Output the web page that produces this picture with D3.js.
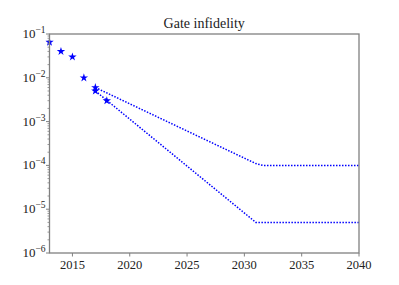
<!DOCTYPE html>
<html lang="en">
<head>
<meta charset="UTF-8">
<title>Gate infidelity</title>
<script src="https://d3js.org/d3.v7.min.js"></script>
<style>
  body { margin: 0; background: #fff; }
  text { font-family: "Liberation Serif", "DejaVu Serif", serif; fill: #222; }
</style>
</head>
<body>
<svg id="canvas"></svg>
<script>
// measured values
let starYears = [2013, 2014, 2015, 2016, 2017, 2017, 2018]
let starValues = [0.065, 0.04, 0.03, 0.01, 0.006, 0.005, 0.003]

let upperYears = [2017, 2031, 2031.6, 2040]
let upperValues = [0.006, 1.1e-4, 1e-4, 1e-4]
let lowerYears = [2017, 2031, 2040]
let lowerValues = [0.005, 5e-6, 5e-6]

let xTicks = [2015, 2020, 2025, 2030, 2035, 2040]
let yExps = [-1, -2, -3, -4, -5, -6]

let width = 399
let height = 285
let padLeft = 49.5, padRight = 359, padTop = 34, padBottom = 253
let spine = "#808080"

let svg = d3.select("#canvas").attr("width", width).attr("height", height)

let xScale = d3.scaleLinear().domain([2013, 2040]).range([padLeft, padRight])
let yScale = d3.scaleLog().domain([1e-6, 1e-1]).range([padBottom, padTop])

// clip area for data
svg.append("clipPath").attr("id", "clip")
   .append("rect").attr("x", padLeft - 4).attr("y", padTop)
   .attr("width", padRight - padLeft + 4).attr("height", padBottom - padTop)

let line = d3.line().x(d => xScale(d[0])).y(d => yScale(d[1]))

let plot = svg.append("g").attr("clip-path", "url(#clip)")

plot.append("path")
    .datum(d3.zip(upperYears, upperValues))
    .attr("d", line)
    .attr("fill", "none").attr("stroke", "#0000ff").attr("stroke-width", 1.5)
    .attr("stroke-dasharray", "1.5,1.5")

plot.append("path")
    .datum(d3.zip(lowerYears, lowerValues))
    .attr("d", line)
    .attr("fill", "none").attr("stroke", "#0000ff").attr("stroke-width", 1.5)
    .attr("stroke-dasharray", "1.5,1.5")

plot.selectAll(".star")
    .data(d3.zip(starYears, starValues))
    .enter()
    .append("path")
    .attr("class", "star")
    .attr("d", d3.symbol().type(d3.symbolStar).size(22))
    .attr("transform", d => "translate(" + xScale(d[0]) + "," + yScale(d[1]) + ")")
    .attr("fill", "#0000ff")

// x axis
let xAxis = svg.append("g").attr("transform", "translate(0," + padBottom + ")")
xAxis.selectAll("line")
     .data(xTicks).enter().append("line")
     .attr("x1", d => xScale(d)).attr("x2", d => xScale(d))
     .attr("y1", 0).attr("y2", 3.5)
     .attr("stroke", spine).attr("stroke-width", 1)
xAxis.selectAll("text")
     .data(xTicks).enter().append("text")
     .attr("x", d => xScale(d)).attr("y", 16)
     .attr("text-anchor", "middle").attr("font-size", 12.5)
     .text(d => d)

// y axis: major and minor ticks
let yAxis = svg.append("g").attr("transform", "translate(" + padLeft + ",0)")
let minor = []
yExps.slice(1).forEach(e => {
  for (let m = 2; m <= 9; m++) minor.push(m * Math.pow(10, e))
})
yAxis.selectAll(".minor")
     .data(minor).enter().append("line")
     .attr("class", "minor")
     .attr("x1", 0).attr("x2", -2)
     .attr("y1", d => yScale(d)).attr("y2", d => yScale(d))
     .attr("stroke", spine).attr("stroke-width", 0.8)
yAxis.selectAll(".major")
     .data(yExps).enter().append("line")
     .attr("class", "major")
     .attr("x1", 0).attr("x2", -3.5)
     .attr("y1", d => yScale(Math.pow(10, d))).attr("y2", d => yScale(Math.pow(10, d)))
     .attr("stroke", spine).attr("stroke-width", 1)
let labels = yAxis.selectAll(".lab")
     .data(yExps).enter().append("text")
     .attr("class", "lab")
     .attr("x", -4).attr("y", d => yScale(Math.pow(10, d)) + 4)
     .attr("text-anchor", "end").attr("font-size", 13)
labels.append("tspan").text("10")
labels.append("tspan").attr("dy", -5).attr("font-size", 9.5).text(d => "\u2212" + (-d))

// spines
svg.append("rect")
   .attr("x", padLeft).attr("y", padTop)
   .attr("width", padRight - padLeft).attr("height", padBottom - padTop)
   .attr("fill", "none").attr("stroke", spine).attr("stroke-width", 1.3)

// title
svg.append("text")
   .attr("x", (padLeft + padRight) / 2).attr("y", 28)
   .attr("text-anchor", "middle").attr("font-size", 14)
   .text("Gate infidelity")
</script>
</body>
</html>
